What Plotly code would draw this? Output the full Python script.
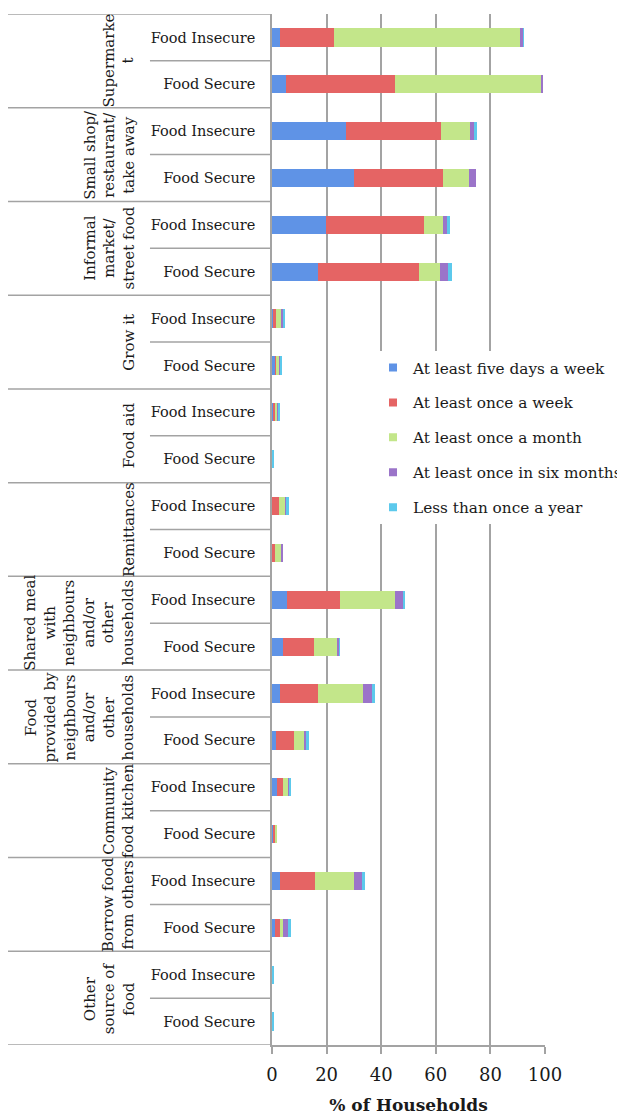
import plotly.graph_objects as go

# ---------------- data ----------------
group_labels = [
    "Supermarke<br>t",
    "Small shop/<br>restaurant/<br>take away",
    "Informal<br>market/<br>street food",
    "Grow it",
    "Food aid",
    "Remittances",
    "Shared meal<br>with<br>neighbours<br>and/or<br>other<br>households",
    "Food<br>provided by<br>neighbours<br>and/or<br>other<br>households",
    "Community<br>food kitchen",
    "Borrow food<br>from others",
    "Other<br>source of<br>food",
]
status_labels = ["Food Insecure", "Food Secure"]

series_names = [
    "At least five days a week",
    "At least once a week",
    "At least once a month",
    "At least once in six months",
    "Less than once a year",
]

five_days = [3.1, 5.3, 27.0, 30.1, 19.6, 17.0, 0.4, 1.0, 0.2, 0.0, 0.0, 0.0,
             5.5, 4.0, 3.1, 1.3, 1.8, 0.2, 2.8, 1.0, 0.0, 0.0]
once_week = [19.5, 39.9, 35.0, 32.5, 36.1, 36.9, 1.2, 0.8, 0.8, 0.0, 2.4, 1.2,
             19.3, 11.5, 13.9, 6.9, 2.2, 1.2, 12.8, 1.8, 0.0, 0.0]
once_month = [68.2, 53.6, 10.5, 9.6, 6.9, 7.7, 1.6, 0.6, 0.9, 0.2, 2.6, 2.2,
              20.1, 8.5, 16.5, 3.4, 2.1, 0.3, 14.3, 1.2, 0.0, 0.0]
six_months = [1.2, 0.4, 1.6, 2.5, 1.5, 2.9, 0.8, 0.8, 0.5, 0.0, 0.3, 0.4,
              3.1, 0.6, 3.2, 1.0, 0.4, 0.0, 3.2, 2.2, 0.0, 0.2]
less_year = [0.2, 0.0, 1.0, 0.0, 1.1, 1.3, 0.9, 0.6, 0.6, 0.7, 0.8, 0.0,
             0.7, 0.2, 1.0, 1.0, 0.5, 0.0, 1.1, 0.6, 0.4, 0.2]

x_ticks = [0, 20, 40, 60, 80, 100]
x_title = "% of Households"

# ---------------- figure ----------------
colors = ["#5f93e6", "#e56464", "#c3e68a", "#9b74c9", "#5cc9ec"]
series = [five_days, once_week, once_month, six_months, less_year]

row_labels = [s for _ in group_labels for s in status_labels]
row_pos = list(range(len(row_labels)))

FONT = "DejaVu Serif"
GRID = "#a3a3a3"

fig = go.Figure()
for name, vals, col in zip(series_names, series, colors):
    fig.add_trace(go.Bar(
        y=row_pos, x=vals, orientation="h", name=name,
        marker=dict(color=col, line=dict(width=0)),
        width=0.39, showlegend=False,
    ))
for i, (name, col) in enumerate(zip(series_names, colors)):
    fig.add_trace(go.Scatter(
        x=[None], y=[None], mode="markers", name=name,
        marker=dict(symbol="square", size=8, color=col),
        legendgroup=f"g{i}", showlegend=True,
    ))

# divider lines of the hierarchical category axis
shapes = []
n_rows = len(row_labels)
for k in range(n_rows + 1):
    x0 = -0.967 if k % 2 == 0 else -0.447
    shapes.append(dict(type="line", xref="paper", yref="y",
                       x0=x0, x1=0, y0=k - 0.5, y1=k - 0.5,
                       line=dict(color=GRID, width=1.5)))

annotations = []
for g, lab in enumerate(group_labels):
    annotations.append(dict(
        xref="paper", yref="y", x=-0.485, y=2 * g + 0.5,
        text=lab, textangle=-90, showarrow=False,
        xanchor="right", yanchor="middle", align="center",
        font=dict(family=FONT, size=15, color="#1a1a1a"),
    ))

fig.update_layout(
    width=617, height=1107,
    margin=dict(l=264, r=80, t=6, b=70, autoexpand=False),
    plot_bgcolor="white", paper_bgcolor="white",
    barmode="stack",
    shapes=shapes, annotations=annotations,
    font=dict(family=FONT, color="#1a1a1a"),
    legend=dict(
        x=0.37, y=0.673, xanchor="left", yanchor="top",
        bgcolor="white", font=dict(family=FONT, size=15.3, color="#1a1a1a"),
        traceorder="grouped", tracegroupgap=12, itemwidth=30,
    ),
)
fig.update_xaxes(
    range=[0, 100], tickvals=x_ticks, showgrid=True, gridcolor=GRID, gridwidth=1.5,
    zeroline=False, showline=True, linecolor=GRID, linewidth=1.5,
    ticks="outside", ticklen=7, tickcolor=GRID, tickwidth=1.5,
    tickfont=dict(family=FONT, size=18, color="#1a1a1a"), ticklabelstandoff=6,
    title=dict(text="<b>" + x_title + "</b>", font=dict(family=FONT, size=17, color="#1a1a1a"),
               standoff=17),
    automargin=False,
)
fig.update_yaxes(
    range=[n_rows - 0.5, -0.5], tickvals=row_pos, ticktext=row_labels,
    showgrid=False, zeroline=False, showline=True, linecolor=GRID, linewidth=1.5,
    ticks="outside", ticklen=12, tickcolor="rgba(0,0,0,0)",
    tickfont=dict(family=FONT, size=14.5, color="#1a1a1a"),
    automargin=False,
)

fig.write_html("out.html")
